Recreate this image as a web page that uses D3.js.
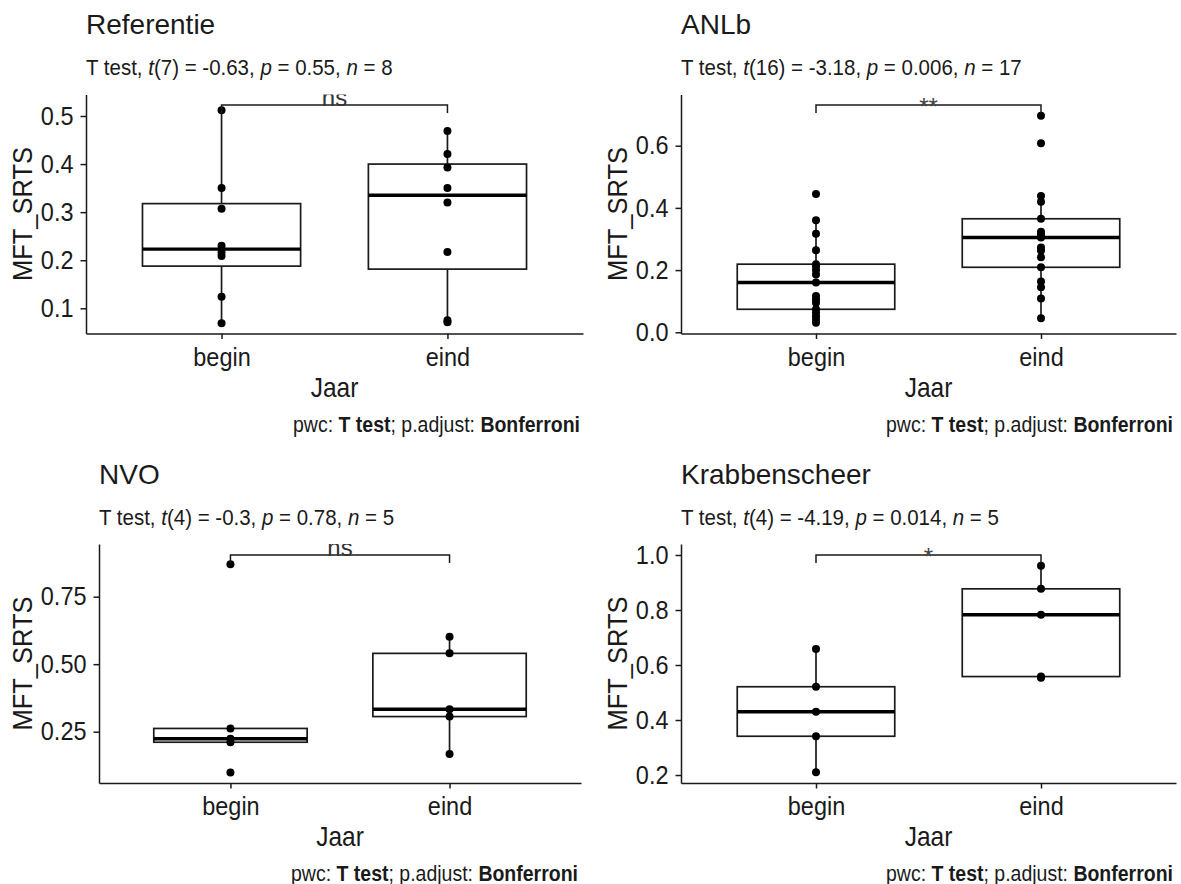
<!DOCTYPE html>
<html>
<head>
<meta charset="utf-8">
<script src="https://cdnjs.cloudflare.com/ajax/libs/d3/7.8.5/d3.min.js"></script>
<style>
body { margin: 0; background: #fff; }
svg text { font-family: Arial, "Liberation Sans", sans-serif; fill: #1a1a1a; }
</style>
</head>
<body>
<svg id="chart" width="1181" height="884"></svg>
<script>
var groups = ["begin", "eind"];
var panelTitles = ["Referentie", "ANLb", "NVO", "Krabbenscheer"];

// MFT_SRTS per group
var referentieBegin = [0.512, 0.350, 0.307, 0.230, 0.216, 0.209, 0.124, 0.069];
var referentieEind = [0.469, 0.421, 0.393, 0.350, 0.320, 0.217, 0.075, 0.071];
var anlbBegin = [0.445, 0.360, 0.317, 0.264, 0.219, 0.212, 0.200, 0.186, 0.160,
    0.117, 0.106, 0.095, 0.074, 0.063, 0.051, 0.040, 0.031];
var anlbEind = [0.696, 0.608, 0.438, 0.420, 0.365, 0.323, 0.316, 0.310, 0.305,
    0.273, 0.263, 0.241, 0.209, 0.163, 0.145, 0.109, 0.045];
var nvoBegin = [0.870, 0.262, 0.224, 0.211, 0.099];
var nvoEind = [0.602, 0.540, 0.333, 0.306, 0.167];
var krabBegin = [0.658, 0.521, 0.430, 0.341, 0.210];
var krabEind = [0.961, 0.877, 0.783, 0.558, 0.554];

var panelValues = [
    [referentieBegin, referentieEind],
    [anlbBegin, anlbEind],
    [nvoBegin, nvoEind],
    [krabBegin, krabEind]
];

// paired t test results
var testDf = [7, 16, 4, 4];
var testT = ["-0.63", "-3.18", "-0.3", "-4.19"];
var testP = ["0.55", "0.006", "0.78", "0.014"];
var testN = [8, 17, 5, 5];
var signifLabels = ["ns", "**", "ns", "*"];
var bracketY = [0.523, 0.731, 0.904, 1.0];

var yDomains = [[0.0476, 0.5447], [-0.0039, 0.7646], [0.060, 0.945], [0.171, 1.04]];
var yTicks = [[0.1, 0.2, 0.3, 0.4, 0.5], [0, 0.2, 0.4, 0.6], [0.25, 0.5, 0.75], [0.2, 0.4, 0.6, 0.8, 1.0]];
var yTickFormats = [".1f", ".1f", ".2f", ".1f"];

// panel rectangles in the 2x2 grid
var frames = [
    {x0: 86, x1: 583, y0: 94.5, y1: 333.5, top: 0},
    {x0: 681, x1: 1176, y0: 94.5, y1: 333.5, top: 0},
    {x0: 99, x1: 581, y0: 544, y1: 783, top: 449.5},
    {x0: 681, x1: 1176, y0: 544, y1: 783, top: 449.5}
];

var ink = "#1a1a1a";
var fontStack = "Arial, 'Liberation Sans', sans-serif";
var stretch = " scale(1,1.1)"; // the source glyphs are a bit taller than Arial
var svg = d3.select("#chart");

var putText = function(g, x, y, size) {
    return g.append("text")
        .attr("transform", "translate(" + x + "," + y + ")" + stretch)
        .style("font-family", fontStack)
        .style("font-size", size + "px");
};

var drawPanel = function(i) {
    var f = frames[i];
    var g = svg.append("g");

    var x = d3.scalePoint().domain(groups).range([f.x0, f.x1]).padding(0.6);
    var y = d3.scaleLinear().domain(yDomains[i]).range([f.y1, f.y0]);
    var boxW = x.step() * 0.7;

    svg.append("clipPath").attr("id", "clip" + i)
        .append("rect")
        .attr("x", f.x0).attr("y", f.y0)
        .attr("width", f.x1 - f.x0).attr("height", f.y1 - f.y0);

    var plot = g.append("g").attr("clip-path", "url(#clip" + i + ")");

    groups.forEach(function(grp, k) {
        var vals = panelValues[i][k].slice().sort(d3.ascending);
        var q1 = d3.quantile(vals, 0.25);
        var med = d3.quantile(vals, 0.5);
        var q3 = d3.quantile(vals, 0.75);
        var iqr = q3 - q1;
        var lo = d3.min(vals.filter(function(v) { return v >= q1 - 1.5 * iqr; }));
        var hi = d3.max(vals.filter(function(v) { return v <= q3 + 1.5 * iqr; }));
        var cx = x(grp);

        // whiskers
        plot.append("line")
            .attr("x1", cx).attr("x2", cx)
            .attr("y1", y(hi)).attr("y2", y(q3))
            .attr("stroke", ink).attr("stroke-width", 1.7);
        plot.append("line")
            .attr("x1", cx).attr("x2", cx)
            .attr("y1", y(q1)).attr("y2", y(lo))
            .attr("stroke", ink).attr("stroke-width", 1.7);

        plot.append("rect")
            .attr("x", cx - boxW / 2)
            .attr("y", y(q3))
            .attr("width", boxW)
            .attr("height", y(q1) - y(q3))
            .attr("fill", "#fff")
            .attr("stroke", ink)
            .attr("stroke-width", 1.7);

        plot.append("line")
            .attr("x1", cx - boxW / 2).attr("x2", cx + boxW / 2)
            .attr("y1", y(med)).attr("y2", y(med))
            .attr("stroke", "#000").attr("stroke-width", 3.4);

        plot.selectAll("circle.pt" + k)
            .data(vals)
            .enter().append("circle")
            .attr("class", "pt" + k)
            .attr("cx", cx)
            .attr("cy", function(d) { return y(d); })
            .attr("r", 4)
            .attr("fill", "#000");
    });

    // significance bracket
    var by = y(bracketY[i]);
    plot.append("path")
        .attr("d", "M" + x("begin") + "," + (by + 8) + "V" + by + "H" + x("eind") + "V" + (by + 8))
        .attr("fill", "none")
        .attr("stroke", ink)
        .attr("stroke-width", 1.5);

    var isStars = signifLabels[i].indexOf("*") >= 0;
    plot.append("text")
        .attr("x", (x("begin") + x("eind")) / 2)
        .attr("y", by)
        .attr("dy", isStars ? "0.43em" : "0.05em")
        .attr("text-anchor", "middle")
        .style("font-family", fontStack)
        .style("font-size", "24px")
        .style("fill", isStars ? "#444" : "#333")
        .text(signifLabels[i]);

    // axes
    var yAxis = d3.axisLeft(y)
        .tickValues(yTicks[i])
        .tickFormat(d3.format(yTickFormats[i]))
        .tickSize(5.5).tickSizeOuter(0).tickPadding(7);
    var ya = g.append("g").attr("transform", "translate(" + f.x0 + ",0)").call(yAxis);

    var xAxis = d3.axisBottom(x).tickSize(5.5).tickSizeOuter(0).tickPadding(7);
    var xa = g.append("g").attr("transform", "translate(0," + f.y1 + ")").call(xAxis);

    [ya, xa].forEach(function(a) {
        a.select(".domain").attr("stroke", ink).attr("stroke-width", 1.5);
        a.selectAll(".tick line").attr("stroke", ink).attr("stroke-width", 1.5);
        a.selectAll(".tick text")
            .attr("fill", ink)
            .attr("transform", stretch)
            .style("font-size", "23.5px")
            .style("font-family", fontStack);
    });

    var maxW = d3.max(ya.selectAll(".tick text").nodes(), function(n) { return n.getBBox().width; });

    g.append("text")
        .attr("transform", "translate(" + (f.x0 - 12.5 - maxW - 9) + "," + ((f.y0 + f.y1) / 2) + ") rotate(-90)" + stretch)
        .attr("text-anchor", "middle")
        .style("font-family", fontStack)
        .style("font-size", "25.5px")
        .text("MFT_SRTS");

    putText(g, (f.x0 + f.x1) / 2, f.y1 + 63, 24.5)
        .attr("text-anchor", "middle")
        .text("Jaar");

    // titles
    g.append("text")
        .attr("x", f.x0)
        .attr("y", f.top + 34)
        .style("font-family", fontStack)
        .style("font-size", "28px")
        .text(panelTitles[i]);

    var sub = putText(g, f.x0, f.top + 75, 20.5);
    sub.append("tspan").text("T test, ");
    sub.append("tspan").style("font-style", "italic").text("t");
    sub.append("tspan").text("(" + testDf[i] + ") = " + testT[i] + ", ");
    sub.append("tspan").style("font-style", "italic").text("p");
    sub.append("tspan").text(" = " + testP[i] + ", ");
    sub.append("tspan").style("font-style", "italic").text("n");
    sub.append("tspan").text(" = " + testN[i]);

    var cap = putText(g, f.x1 - 3, f.y1 + 98, 19.5)
        .attr("text-anchor", "end");
    cap.append("tspan").text("pwc: ");
    cap.append("tspan").style("font-weight", "bold").text("T test");
    cap.append("tspan").text("; p.adjust: ");
    cap.append("tspan").style("font-weight", "bold").text("Bonferroni");
};

for (var i = 0; i < panelTitles.length; i++) {
    drawPanel(i);
}
</script>
</body>
</html>
